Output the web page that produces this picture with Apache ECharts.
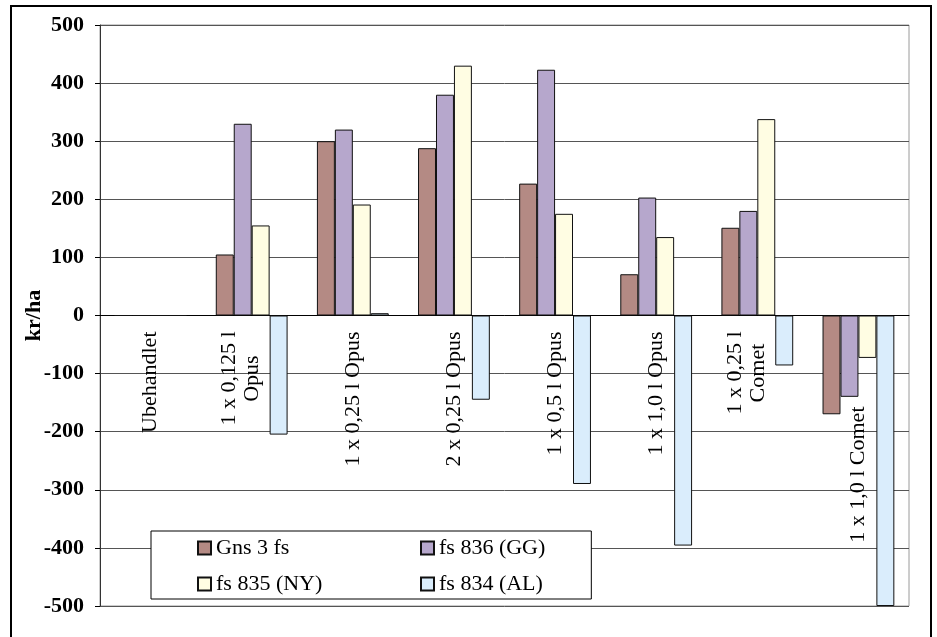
<!DOCTYPE html>
<html>
<head>
<meta charset="utf-8">
<script src="https://cdn.jsdelivr.net/npm/echarts@6/dist/echarts.min.js"></script>
<style>
    html, body { margin: 0; padding: 0; background: #fff; }
    #chart { position: absolute; left: 0; top: 0; width: 937px; height: 637px; }
    #frame { position: absolute; left: 10px; top: 5px; width: 918px; height: 640px;
             border: 2px solid #000; pointer-events: none; }
</style>
</head>
<body>
<div id="chart"></div>
<div id="frame"></div>
<script>
    const categories = [
        'Ubehandlet',
        '1 x 0,125 l\nOpus',
        '1 x 0,25 l Opus',
        '2 x 0,25 l Opus',
        '1 x 0,5 l Opus',
        '1 x 1,0 l Opus',
        '1 x 0,25 l\nComet',
        '1 x 1,0 l Comet'
    ];
    const seriesNames = ['Gns 3 fs', 'fs 836 (GG)', 'fs 835 (NY)', 'fs 834 (AL)'];
    const gns3 = [0, 105, 300, 288, 227, 71, 151, -170];
    const fs836 = [0, 330, 320, 380, 423, 203, 180, -140];
    const fs835 = [0, 155, 191, 430, 175, 135, 338, -73];
    const fs834 = [0, -205, 4, -145, -290, -396, -86, -500];
    const colors = ['#b48a84', '#b6a7cc', '#fffde3', '#daedfc'];

    const serif = "'Liberation Serif', 'DejaVu Serif', serif";

    const chart = echarts.init(document.getElementById('chart'));

    // two-line labels sit a bit left of centre, the last one sits lower
    const xData = categories.map((c, i) => {
        if (i === categories.length - 1) {
            return { value: c, textStyle: { padding: [0, 75, 0, 0] } };
        }
        if (c.indexOf('\n') >= 0) {
            return { value: c, textStyle: { padding: [0, 0, 22, 0] } };
        }
        return c;
    });

    const makeBar = (name, data, color) => ({
        name: name,
        type: 'bar',
        data: data,
        barGap: '0%',
        barCategoryGap: '29%',
        itemStyle: { color: color, borderColor: '#111', borderWidth: 1 }
    });

    chart.setOption({
        animation: false,
        grid: {
            left: 100, right: 28, top: 25, bottom: 31,
            outerBoundsMode: 'none',
            containLabel: false,
            show: true, borderColor: '#9a9a9a', borderWidth: 1
        },
        legend: {
            left: 151, top: 531,
            width: 400,
            padding: [6, 46, 4, 46],
            itemWidth: 13, itemHeight: 13, itemGap: 14,
            icon: 'rect',
            backgroundColor: '#fff',
            borderColor: '#000', borderWidth: 1,
            textStyle: { fontFamily: serif, fontSize: 22, color: '#000', lineHeight: 22 },
            data: [
                { name: seriesNames[0], textStyle: { width: 190 } },
                seriesNames[1],
                { name: seriesNames[2], textStyle: { width: 190 } },
                seriesNames[3]
            ]
        },
        xAxis: {
            type: 'category',
            data: xData,
            position: 'bottom',
            // lift the axis (line, ticks, labels) up to the zero line
            offset: -290.5,
            axisLine: { onZero: false, lineStyle: { color: '#000', width: 1 } },
            axisTick: { length: 5, lineStyle: { color: '#000' } },
            axisLabel: {
                interval: 0,
                rotate: 90,
                margin: 16,
                fontFamily: serif,
                fontSize: 22,
                color: '#000',
                formatter: v => v.split('\n').map(s => '{c|' + s + '}').join('\n'),
                rich: { c: { align: 'center', fontFamily: serif, fontSize: 22, lineHeight: 23 } }
            }
        },
        yAxis: {
            type: 'value',
            min: -500, max: 500, interval: 100,
            name: 'kr/ha',
            nameLocation: 'middle',
            nameGap: 55,
            nameMoveOverlap: false,
            nameTextStyle: { fontFamily: serif, fontSize: 22, fontWeight: 'bold', color: '#000' },
            axisLine: { show: true, lineStyle: { color: '#333', width: 1 } },
            axisTick: { show: true, length: 5, lineStyle: { color: '#000' } },
            axisLabel: { margin: 16, fontFamily: serif, fontSize: 22, fontWeight: 'bold', color: '#000' },
            splitLine: { lineStyle: { color: '#555', width: 1 } }
        },
        series: [
            makeBar(seriesNames[0], gns3, colors[0]),
            makeBar(seriesNames[1], fs836, colors[1]),
            makeBar(seriesNames[2], fs835, colors[2]),
            makeBar(seriesNames[3], fs834, colors[3])
        ]
    });
</script>
</body>
</html>
